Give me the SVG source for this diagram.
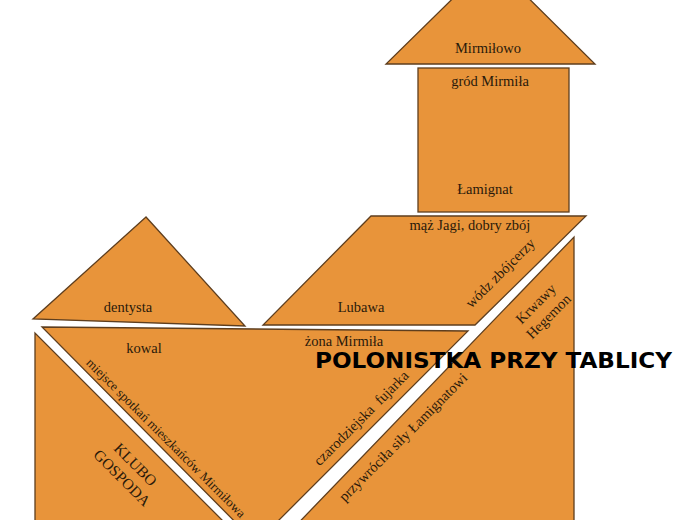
<svg xmlns="http://www.w3.org/2000/svg" width="700" height="520" viewBox="0 0 700 520">
<style>
.p{fill:#E8943A;stroke:#5E3E1E;stroke-width:1.3;stroke-linejoin:miter}
.t{font-family:"Liberation Serif","Times New Roman",serif;font-size:14.5px;fill:#2A1A0A;text-anchor:middle}
.big{font-size:15.5px}
.wm{font-family:"DejaVu Sans","Liberation Sans",sans-serif;font-weight:bold;font-size:21px;fill:#000}
</style>
<rect width="700" height="520" fill="#fff"/>
<g id="roof">
<polygon class="p" points="491,-39 386,64 595,64"/>
<text class="t" x="488" y="53">Mirmiłowo</text>
</g>
<g id="square">
<rect class="p" x="418" y="68" width="151" height="144"/>
<text class="t" x="490" y="86">gród Mirmiła</text>
<text class="t" x="485" y="194">Łamignat</text>
</g>
<g id="parallelogram">
<polygon class="p" points="371,216 586,216 475,325 263,325"/>
<text class="t" x="470" y="230">mąż Jagi, dobry zbój</text>
<text class="t" x="361" y="312">Lubawa</text>
<text class="t" transform="translate(500,273) rotate(-45)" x="0" y="5">wódz zbójcerzy</text>
</g>
<g id="small-triangle">
<polygon class="p" points="146,217 33,319 245,326"/>
<text class="t" x="128" y="312">dentysta</text>
</g>
<g id="right-triangle">
<polygon class="p" points="574,237 574,540 282,540"/>
<text class="t" transform="translate(542,310) rotate(-45)"><tspan x="0" y="-4">Krwawy</tspan><tspan x="0" y="14">Hegemon</tspan></text>
<text class="t" transform="translate(403,437) rotate(-45)" x="0" y="5">przywróciła siły Łamignatowi</text>
</g>
<g id="middle-triangle">
<polygon class="p" points="42,327 468,331 256,543"/>
<text class="t" x="144" y="353">kowal</text>
<text class="t" x="344" y="346">żona Mirmiła</text>
<text class="t" transform="translate(361,418) rotate(-45)" x="0" y="5" xml:space="preserve">czarodziejska  fujarka</text>
<text class="t" transform="translate(89,360) rotate(45)" x="0" y="5" style="text-anchor:start;font-size:13px">miejsce spotkań mieszkańców Mirmiłowa</text>
</g>
<g id="left-triangle">
<polygon class="p" points="35,333 35,545 247,545"/>
<text class="t big" transform="translate(129,471) rotate(45)"><tspan x="0" y="-4">KLUBO</tspan><tspan x="0" y="15">GOSPODA</tspan></text>
</g>
<g id="connectors"></g>
<text class="wm" x="315" y="368" textLength="357" lengthAdjust="spacingAndGlyphs">POLONISTKA PRZY TABLICY</text>
</svg>
